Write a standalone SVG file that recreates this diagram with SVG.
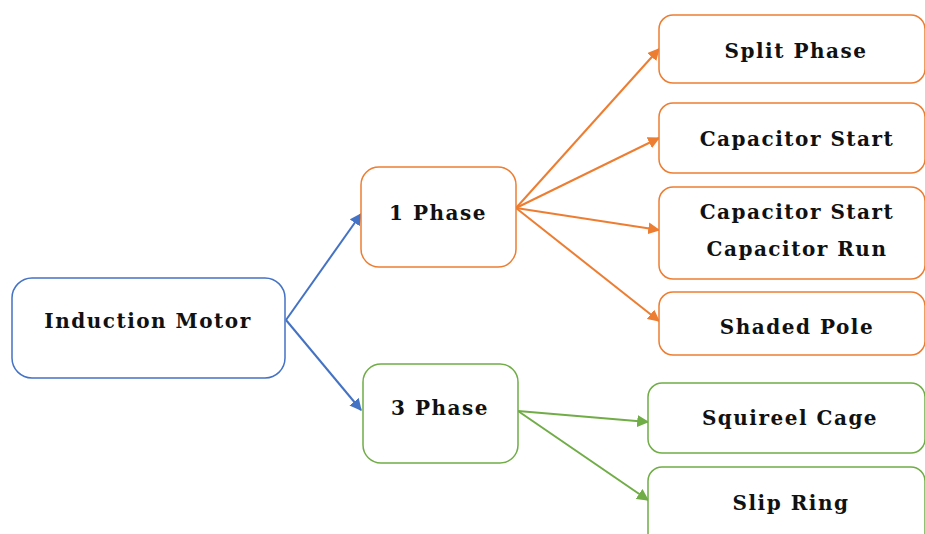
<svg xmlns="http://www.w3.org/2000/svg" width="925" height="534" viewBox="0 0 925 534">
<style>
.box{fill:#fff;stroke-width:1.5}
.b{stroke:#4472C4}.o{stroke:#ED7D31}.g{stroke:#70AD47}
.t{font-family:"DejaVu Serif","Liberation Serif",serif;font-weight:bold;font-size:20px;letter-spacing:1.5px;fill:#111;text-anchor:middle}
.ln{fill:none;stroke-width:2}
</style>
<defs>
<marker id="ab" viewBox="0 0 10 10" refX="9" refY="5" markerWidth="12" markerHeight="12" orient="auto" markerUnits="userSpaceOnUse"><path d="M0,0 L10,5 L0,10 z" fill="#4472C4"/></marker>
<marker id="ao" viewBox="0 0 10 10" refX="9" refY="5" markerWidth="12" markerHeight="12" orient="auto" markerUnits="userSpaceOnUse"><path d="M0,0 L10,5 L0,10 z" fill="#ED7D31"/></marker>
<marker id="ag" viewBox="0 0 10 10" refX="9" refY="5" markerWidth="12" markerHeight="12" orient="auto" markerUnits="userSpaceOnUse"><path d="M0,0 L10,5 L0,10 z" fill="#70AD47"/></marker>
</defs>
<rect width="925" height="534" fill="#fff"/>
<g id="connectors">
<line class="ln" x1="286" y1="320" x2="361" y2="214" stroke="#4472C4" marker-end="url(#ab)"/>
<line class="ln" x1="286" y1="320" x2="361" y2="410" stroke="#4472C4" marker-end="url(#ab)"/>
<line class="ln" x1="516" y1="208" x2="659" y2="49" stroke="#ED7D31" marker-end="url(#ao)"/>
<line class="ln" x1="516" y1="208" x2="659" y2="138" stroke="#ED7D31" marker-end="url(#ao)"/>
<line class="ln" x1="516" y1="208" x2="659" y2="230" stroke="#ED7D31" marker-end="url(#ao)"/>
<line class="ln" x1="516" y1="208" x2="659" y2="321" stroke="#ED7D31" marker-end="url(#ao)"/>
<line class="ln" x1="518" y1="411" x2="648" y2="422" stroke="#70AD47" marker-end="url(#ag)"/>
<line class="ln" x1="518" y1="411" x2="648" y2="500" stroke="#70AD47" marker-end="url(#ag)"/>
</g>
<g id="induction-motor"><rect class="box b" x="12" y="278" width="273" height="100" rx="20"/><text class="t" x="148" y="328">Induction Motor</text></g>
<g id="phase1"><rect class="box o" x="361" y="167" width="155" height="100" rx="18"/><text class="t" x="438" y="220">1 Phase</text></g>
<g id="phase3"><rect class="box g" x="363" y="364" width="155" height="99" rx="18"/><text class="t" x="440" y="415">3 Phase</text></g>
<g id="split-phase"><rect class="box o" x="659" y="15" width="266" height="68" rx="14"/><text class="t" x="796" y="58">Split Phase</text></g>
<g id="capacitor-start"><rect class="box o" x="659" y="103" width="266" height="70" rx="14"/><text class="t" x="797" y="146">Capacitor Start</text></g>
<g id="capacitor-start-run"><rect class="box o" x="659" y="187" width="266" height="92" rx="14"/><text class="t" x="797" y="219">Capacitor Start</text><text class="t" x="797" y="256">Capacitor Run</text></g>
<g id="shaded-pole"><rect class="box o" x="659" y="292" width="266" height="63" rx="14"/><text class="t" x="797" y="334">Shaded Pole</text></g>
<g id="squirrel-cage"><rect class="box g" x="648" y="383" width="277" height="70" rx="14"/><text class="t" x="790" y="425">Squireel Cage</text></g>
<g id="slip-ring"><rect class="box g" x="648" y="467" width="277" height="80" rx="14"/><text class="t" x="791" y="510">Slip Ring</text></g>
</svg>
